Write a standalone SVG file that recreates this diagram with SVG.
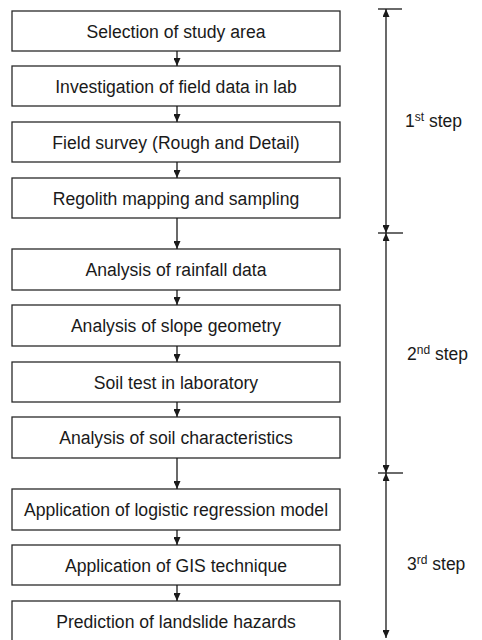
<svg xmlns="http://www.w3.org/2000/svg" width="482" height="640" viewBox="0 0 482 640">
<defs>
<marker id="ah" viewBox="0 0 8 7" refX="8" refY="3.5" markerWidth="8" markerHeight="7" markerUnits="userSpaceOnUse" orient="auto-start-reverse">
<path d="M0,0 L8,3.5 L0,7 Z" fill="#1a1a1a"/>
</marker>
<style>
.box{fill:#fff;stroke:#2a2a2a;stroke-width:1.3}
.t{font-family:"Liberation Sans",Arial,sans-serif;font-size:17.6px;fill:#1a1a1a;text-anchor:middle}
.s{font-family:"Liberation Sans",Arial,sans-serif;font-size:17.5px;fill:#1a1a1a}
.sup{font-size:12px}
.c{stroke:#1a1a1a;stroke-width:1.3;fill:none;marker-end:url(#ah)}
.d{stroke:#1a1a1a;stroke-width:1.3;fill:none;marker-start:url(#ah);marker-end:url(#ah)}
.k{stroke:#1a1a1a;stroke-width:1.3}
</style>
</defs>
<rect width="482" height="640" fill="#fff"/>
<g id="n1"><rect class="box" x="12" y="11" width="328" height="40"/><text class="t" x="176" y="37.5">Selection of study area</text></g>
<g id="n2"><rect class="box" x="12" y="66" width="328" height="40"/><text class="t" x="176" y="92.5">Investigation of field data in lab</text></g>
<g id="n3"><rect class="box" x="12" y="122" width="328" height="40"/><text class="t" x="176" y="148.5">Field survey (Rough and Detail)</text></g>
<g id="n4"><rect class="box" x="12" y="178" width="328" height="40"/><text class="t" x="176" y="204.5">Regolith mapping and sampling</text></g>
<g id="n5"><rect class="box" x="12" y="249" width="328" height="41"/><text class="t" x="176" y="276">Analysis of rainfall data</text></g>
<g id="n6"><rect class="box" x="12" y="305" width="328" height="41"/><text class="t" x="176" y="332">Analysis of slope geometry</text></g>
<g id="n7"><rect class="box" x="12" y="362" width="328" height="40"/><text class="t" x="176" y="388.5">Soil test in laboratory</text></g>
<g id="n8"><rect class="box" x="12" y="417" width="328" height="41"/><text class="t" x="176" y="444">Analysis of soil characteristics</text></g>
<g id="n9"><rect class="box" x="12" y="489" width="328" height="41"/><text class="t" x="176" y="516">Application of logistic regression model</text></g>
<g id="n10"><rect class="box" x="12" y="545" width="328" height="40"/><text class="t" x="176" y="571.5">Application of GIS technique</text></g>
<g id="n11"><rect class="box" x="12" y="601" width="328" height="42"/><text class="t" x="176" y="627.5">Prediction of landslide hazards</text></g>
<g id="connectors">
<line class="c" x1="177" y1="51" x2="177" y2="66"/>
<line class="c" x1="177" y1="106" x2="177" y2="122"/>
<line class="c" x1="177" y1="162" x2="177" y2="178"/>
<line class="c" x1="177" y1="218" x2="177" y2="249"/>
<line class="c" x1="177" y1="290" x2="177" y2="305"/>
<line class="c" x1="177" y1="346" x2="177" y2="362"/>
<line class="c" x1="177" y1="402" x2="177" y2="417"/>
<line class="c" x1="177" y1="458" x2="177" y2="489"/>
<line class="c" x1="177" y1="530" x2="177" y2="545"/>
<line class="c" x1="177" y1="585" x2="177" y2="601"/>
</g>
<g id="steps">
<line class="k" x1="378" y1="9" x2="402" y2="9"/>
<line class="k" x1="378" y1="233" x2="403" y2="233"/>
<line class="k" x1="378" y1="473" x2="403" y2="473"/>
<line class="d" x1="386" y1="9" x2="386" y2="233"/>
<line class="d" x1="386" y1="233" x2="386" y2="473"/>
<line class="d" x1="386" y1="473" x2="386" y2="638"/>
<text class="s" x="405" y="127">1<tspan class="sup" dy="-6">st</tspan><tspan dy="6"> step</tspan></text>
<text class="s" x="407" y="360">2<tspan class="sup" dy="-6">nd</tspan><tspan dy="6"> step</tspan></text>
<text class="s" x="407" y="570">3<tspan class="sup" dy="-6">rd</tspan><tspan dy="6"> step</tspan></text>
</g>
</svg>
